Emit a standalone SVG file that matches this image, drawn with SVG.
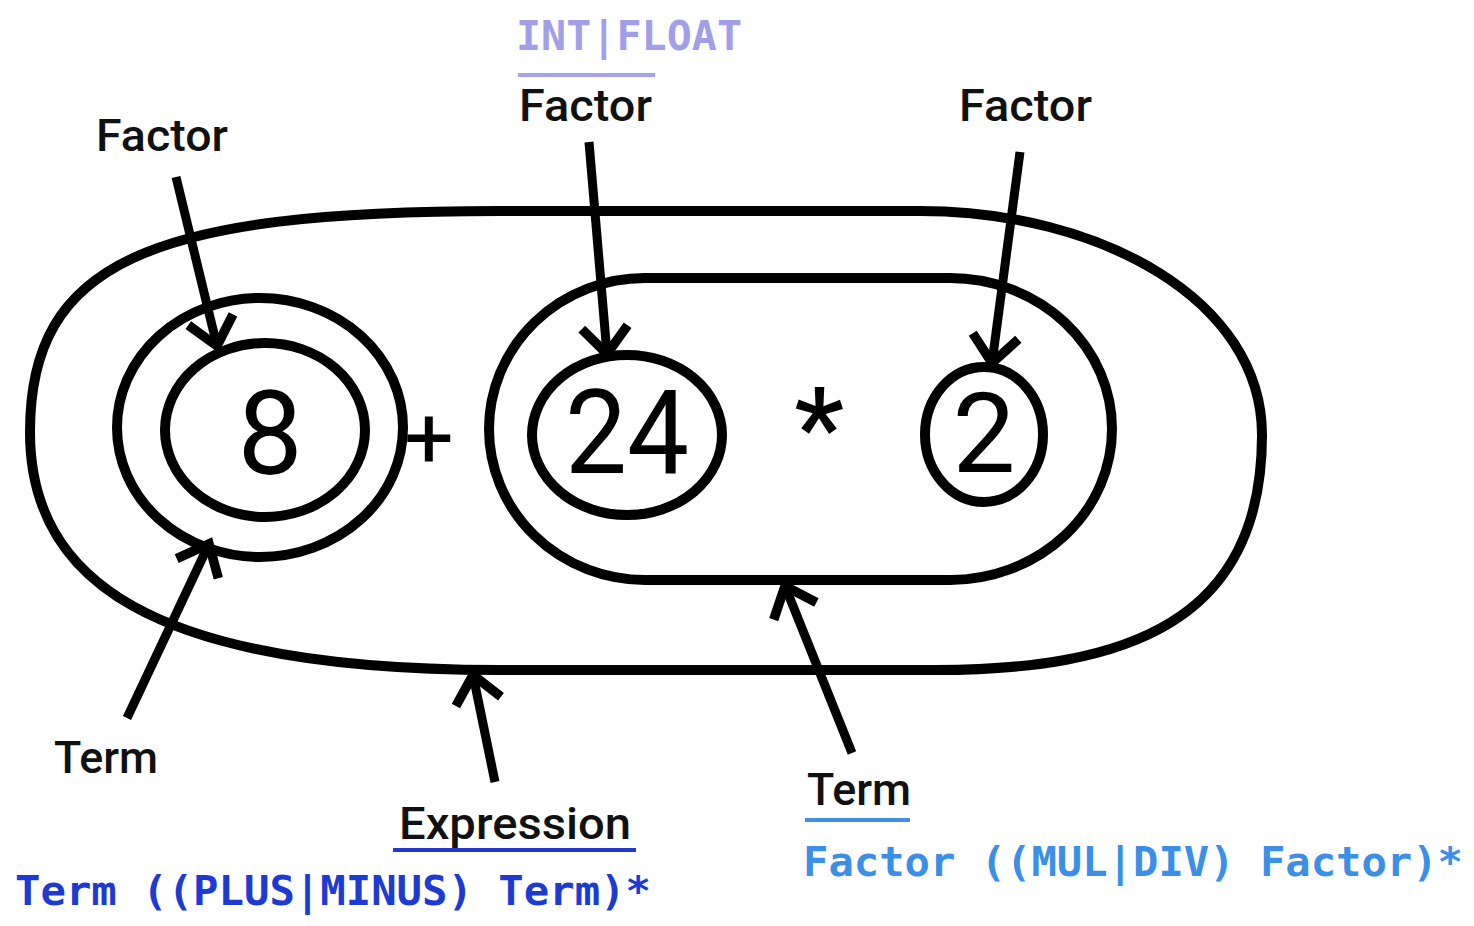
<svg xmlns="http://www.w3.org/2000/svg" width="1474" height="926" viewBox="0 0 1474 926">
<style>
.sh{fill:none;stroke:#000;stroke-width:10}
.cn{fill:none;stroke:#000;stroke-width:9;marker-end:url(#arr)}
.lbl{font-family:Roboto,"Liberation Sans",sans-serif;font-size:45px;font-weight:500;fill:#111}
.num{font-family:Roboto,"Liberation Sans",sans-serif;fill:#000;text-anchor:middle}
.code{font-family:"DejaVu Sans Mono","Liberation Mono",monospace;font-weight:bold;font-size:41px}
</style>
<defs>
<marker id="arr" markerUnits="userSpaceOnUse" viewBox="-40 -40 60 80" refX="0" refY="0" markerWidth="60" markerHeight="80" orient="auto" overflow="visible">
<path d="M-27,-23 L0,0 L-27,23" fill="none" stroke="#000" stroke-width="9.5"/>
</marker>
</defs>
<rect width="1474" height="926" fill="#fff"/>
<g id="expression">
<path class="sh" d="M500,211 L920,211 C1100,211 1262,300 1262,435 C1262,620 1130,671 930,670 L500,670 C150,670 30,580 30,432 C30,262 150,211 500,211 Z"/>
<text class="num" x="429" y="468" font-size="88">+</text>
</g>
<g id="term1">
<ellipse class="sh" cx="260" cy="427.5" rx="143" ry="129.5"/>
</g>
<g id="factor1">
<ellipse class="sh" cx="265" cy="430" rx="100" ry="87"/>
<text class="num" x="270" y="474" font-size="116">8</text>
</g>
<g id="term2">
<path class="sh" d="M645,278 L950,278 A162,151 0 0 1 950,580 L645,580 A156,151 0 0 1 645,278 Z"/>
<text class="num" x="819" y="466" font-size="112" font-weight="500">*</text>
</g>
<g id="factor2">
<ellipse class="sh" cx="627" cy="435" rx="95" ry="80"/>
<text class="num" x="627" y="473" font-size="116" textLength="124" lengthAdjust="spacingAndGlyphs">24</text>
</g>
<g id="factor3">
<ellipse class="sh" cx="984" cy="434.5" rx="59" ry="67.5"/>
<text class="num" x="984" y="472" font-size="112">2</text>
</g>
<g id="connectors">
<line class="cn" x1="176" y1="177" x2="217" y2="346"/>
<line class="cn" x1="589" y1="142" x2="607" y2="354"/>
<line class="cn" x1="1020" y1="152" x2="992" y2="363"/>
<line class="cn" x1="127" y1="718" x2="209" y2="544"/>
<line class="cn" x1="495" y1="782" x2="473" y2="675"/>
<line class="cn" x1="852" y1="753" x2="785" y2="586"/>
</g>
<g id="labels">
<text class="lbl" x="96" y="151" textLength="132" lengthAdjust="spacingAndGlyphs">Factor</text>
<text class="lbl" x="519" y="121" textLength="133" lengthAdjust="spacingAndGlyphs">Factor</text>
<text class="lbl" x="959" y="121" textLength="133" lengthAdjust="spacingAndGlyphs">Factor</text>
<text class="lbl" x="54" y="773" textLength="104" lengthAdjust="spacingAndGlyphs">Term</text>
<text class="lbl" x="807" y="805" textLength="104" lengthAdjust="spacingAndGlyphs">Term</text>
<text class="lbl" x="399" y="839" textLength="232" lengthAdjust="spacingAndGlyphs">Expression</text>
<text class="code" x="516" y="50" fill="#a29fe8" textLength="226" lengthAdjust="spacingAndGlyphs">INT|FLOAT</text>
<line x1="518" y1="75" x2="655" y2="75" stroke="#a7a3ea" stroke-width="4"/>
<line x1="393" y1="850" x2="636" y2="850" stroke="#1d3ccf" stroke-width="4"/>
<line x1="805" y1="820" x2="910" y2="820" stroke="#3f8fe3" stroke-width="4"/>
<text class="code" x="15" y="905" fill="#1d3bd2" textLength="636" lengthAdjust="spacingAndGlyphs">Term ((PLUS|MINUS) Term)*</text>
<text class="code" x="803" y="876" fill="#3c8fe6" textLength="660" lengthAdjust="spacingAndGlyphs">Factor ((MUL|DIV) Factor)*</text>
</g>
</svg>
